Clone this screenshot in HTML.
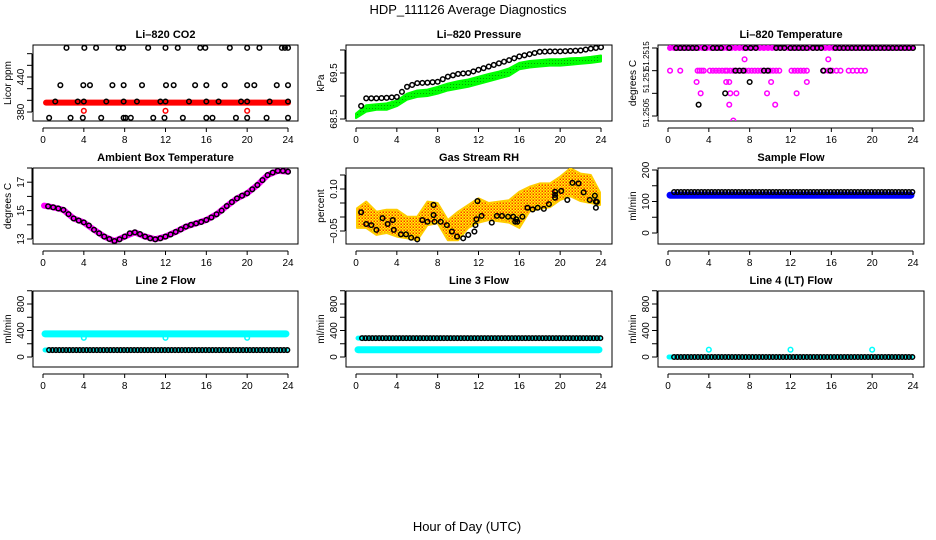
<!DOCTYPE html>
<html><head><meta charset="utf-8">
<style>
html,body{margin:0;padding:0;background:#fff;}
svg{display:block;font-family:"Liberation Sans",sans-serif;}
.tl{font-size:10px;fill:#000;}
.tt{font-size:11px;font-weight:bold;fill:#000;}
</style></head>
<body>
<svg id="chart" width="936" height="540" viewBox="0 0 936 540" xmlns="http://www.w3.org/2000/svg">
<defs>
<pattern id="rhpat" width="3" height="3" patternUnits="userSpaceOnUse">
<rect width="3" height="3" fill="#ffff00"/>
<rect width="1.5" height="1.5" fill="#ff8c00"/>
<rect x="1.5" y="1.5" width="1.5" height="1.5" fill="#ff3000"/>
</pattern>
<pattern id="grpat" width="3" height="3" patternUnits="userSpaceOnUse">
<rect width="3" height="3" fill="#00ff00"/>
<rect width="1" height="1" fill="#00a000"/>
</pattern>
</defs>
<text x="468" y="14" text-anchor="middle" font-size="13">HDP_111126  Average Diagnostics</text>
<text x="467" y="531" text-anchor="middle" font-size="13">Hour of Day (UTC)</text>
</svg>
<script>
// ---------- data ----------
const xTicks = [0,4,8,12,16,20,24];
const hours25 = [0,1,2,3,4,5,6,7,8,9,10,11,12,13,14,15,16,17,18,19,20,21,22,23,24];

// CO2
const co2HighHours = [2.3,4.05,5.2,7.4,7.85,10.3,12,13.2,15.4,15.9,18.3,20,21.2,23.4,23.7,24];
const co2HighVals = [490,490,490,490,490,490,490,490,490,490,490,490,490,490,490,490];
const co2MidHours = [1.7,3.95,4.6,6.8,7.9,9.7,12.05,12.8,14.9,16,17.8,20,20.7,22.9,24];
const co2MidVals = [426,426,426,426,426,426,426,426,426,426,426,426,426,426,426];
const co2LowHours = [1.2,3.4,4,6.2,7.9,9.2,11.5,12,14.3,16,17.2,19.4,20,22.2,24];
const co2LowVals = [398,398,398,398,398,398,398,398,398,398,398,398,398,398,398];
const co2BotHours = [0.6,2.7,3.9,5.7,7.9,8.1,8.6,10.8,11.9,13.7,16,16.6,18.9,20,21.9,24];
const co2BotVals = [370,370,370,370,370,370,370,370,370,370,370,370,370,370,370,370];
const co2RedBand = [396,396,396,396,396,396,396,396,396,396,396,396,396,396,396,396,396,396,396,396,396,396,396,396,396];
const co2RedDotHours = [4,12,20];
const co2RedDotVals = [382,382,382];

// Pressure
const presBlack = [68.62,68.95,68.95,68.96,68.98,69.2,69.28,69.29,69.31,69.42,69.48,69.5,69.57,69.64,69.71,69.78,69.86,69.91,69.96,69.97,69.97,69.98,69.99,70.03,70.06];
const presGreenHigh = [68.62,68.8,68.82,68.84,68.9,69.05,69.12,69.14,69.2,69.27,69.32,69.36,69.42,69.48,69.53,69.6,69.72,69.76,69.78,69.8,69.8,69.82,69.83,69.85,69.88];
const presGreenLow = [68.52,68.66,68.7,68.7,68.78,68.92,68.98,69.0,69.05,69.12,69.16,69.2,69.26,69.32,69.38,69.44,69.58,69.62,69.64,69.66,69.66,69.68,69.7,69.72,69.75];

// Li-820 temperature (discrete levels)
const tLevels = [51.252,51.25175,51.2515,51.25125,51.251,51.25075,51.2504];
const tMagHours = [
 [0.2,0.6,1,1.4,1.8,2.2,2.6,3,3.4,3.8,4.2,4.6,5,5.4,5.8,6.2,6.6,7,7.4,7.8,8.2,8.6,9,9.4,9.8,10.2,10.6,11,11.4,11.8,12.2,12.6,13,13.4,13.8,14.2,14.6,15,15.4,15.8,16.2,16.6,17,17.4,17.8,18.2,18.6,19,19.4,19.8,20.2,20.6,21,21.4,21.8,22.2,22.6,23,23.4,23.8],
 [7.5,15.7],
 [0.2,1.2,2.9,3.1,3.3,3.5,4.1,4.4,4.7,5,5.3,5.6,5.8,6.1,6.4,6.7,7,7.3,7.6,7.9,8.2,8.5,8.8,9.1,9.4,9.7,10,10.3,10.6,10.9,12.1,12.4,12.7,13,13.3,13.6,15.3,15.7,16.1,16.5,16.9,17.7,18.1,18.5,18.9,19.3],
 [2.8,5.7,6.0,10.1,13.6],
 [3.2,6.1,6.7,9.7,12.6],
 [6.0,10.5],
 [6.4]
];
const tBlackHours = [
 [0.8,1.2,1.6,2,2.4,2.8,3.6,4.4,4.8,5.2,6,7.6,8.1,8.6,10.6,11,11.4,12,12.4,12.8,13.2,13.6,14.2,14.6,15,16.4,16.8,17.2,17.6,18,18.4,18.8,19.2,19.6,20,20.4,20.8,21.2,21.6,22,22.4,22.8,23.2,23.6,24],
 [],
 [6.6,7,7.4,9.4,9.8,15.2,15.9],
 [8.0],
 [5.6],
 [3.0],
 []
];

// Ambient box temperature
const ambMagenta = [15.35,15.23,15.05,14.45,14.17,13.65,13.17,12.86,13.17,13.47,13.17,12.98,13.17,13.5,13.87,14.1,14.34,14.74,15.32,15.86,16.22,16.8,17.5,17.8,17.74];
const ambBlackHours = [0.5,1,1.5,2,2.5,3,3.5,4,4.5,5,5.5,6,6.5,7,7.5,8,8.5,9,9.5,10,10.5,11,11.5,12,12.5,13,13.5,14,14.5,15,15.5,16,16.5,17,17.5,18,18.5,19,19.5,20,20.5,21,21.5,22,22.5,23,23.5,24];
const ambBlackVals = [15.3,15.23,15.15,15.05,14.75,14.45,14.3,14.17,13.95,13.65,13.4,13.17,13.0,12.86,12.98,13.17,13.4,13.47,13.35,13.17,13.05,12.98,13.05,13.17,13.32,13.5,13.68,13.87,14.0,14.1,14.2,14.34,14.52,14.74,15.0,15.32,15.6,15.86,16.05,16.22,16.5,16.8,17.15,17.5,17.68,17.8,17.8,17.74];

// Gas stream RH
const rhBlackHours = [0.5,1,1.5,2,2.6,3.1,3.6,3.7,4.4,4.9,5.4,6,6.5,7,7.6,7.6,7.7,8.3,8.9,9.4,9.9,10.5,11,11.6,11.7,11.8,11.9,12.3,13.3,13.8,14.3,14.9,15.4,15.6,15.7,15.8,16.3,16.8,17.3,17.8,18.4,18.9,19.5,19.5,19.5,20.1,20.7,21.2,21.8,22.3,22.9,23.4,23.5,23.5,23.6];
const rhBlackVals = [0.017,-0.025,-0.029,-0.046,-0.004,-0.025,-0.011,-0.046,-0.062,-0.062,-0.074,-0.08,-0.011,-0.017,0.043,0.007,-0.017,-0.017,-0.029,-0.052,-0.07,-0.076,-0.064,-0.052,-0.029,-0.008,0.057,0.004,-0.02,0.004,0.004,0.001,0.001,-0.017,-0.008,-0.017,0.001,0.033,0.027,0.033,0.029,0.046,0.09,0.079,0.069,0.093,0.061,0.122,0.12,0.088,0.061,0.076,0.055,0.033,0.054];
const rhBandHigh = [0.031,0.055,0.019,0.026,0.026,0.001,0.001,0.055,0.05,-0.011,0.019,0.043,0.067,0.05,0.055,0.06,0.09,0.108,0.12,0.12,0.144,0.174,0.155,0.15,0.088];
const rhBandLow = [-0.039,-0.039,-0.064,-0.057,-0.07,-0.076,-0.083,-0.029,-0.022,-0.083,-0.083,-0.039,-0.02,-0.011,-0.015,-0.02,-0.039,0.02,0.029,0.035,0.061,0.074,0.057,0.05,0.043];

// Flows (hourly levels)
const sampBlue = [120,120,120,120,120,120,120,120,120,120,120,120,120,120,120,120,120,120,120,120,120,120,120,120,120];
const sampBlack = [130,130,130,130,130,130,130,130,130,130,130,130,130,130,130,130,130,130,130,130,130,130,130,130,130];
const l2Cyan = [350,350,350,350,350,350,350,350,350,350,350,350,350,350,350,350,350,350,350,350,350,350,350,350,350];
const l2Low = [105,105,105,105,105,105,105,105,105,105,105,105,105,105,105,105,105,105,105,105,105,105,105,105,105];
const l3Black = [285,285,285,285,285,285,285,285,285,285,285,285,285,285,285,285,285,285,285,285,285,285,285,285,285];
const l3Cyan = [110,110,110,110,110,110,110,110,110,110,110,110,110,110,110,110,110,110,110,110,110,110,110,110,110];
const l4Black = [0,0,0,0,0,0,0,0,0,0,0,0,0,0,0,0,0,0,0,0,0,0,0,0,0];
const spikeHours = [4,12,20];
const l2DipVals = [290,290,290];
const l4SpikeVals = [110,110,110];

// ---------- drawing ----------
const svg = document.getElementById('chart');
const NS = 'http://www.w3.org/2000/svg';
const colL = [33,346,658], colR = [298,612,924], colX0 = [43,356,668], colX24 = [288,601,913];
const rowT = [45,168,291], rowB = [121,244,367];

function mk(tag, attrs, parent){
  const e = document.createElementNS(NS, tag);
  for (const k in attrs) e.setAttribute(k, attrs[k]);
  (parent||svg).appendChild(e);
  return e;
}

function panel(c, r, name, title, ytitle, yMin, yPix0, yMax, yPix1, yTicks, yLabels, lblSize){
  const g = mk('g', {});
  
  
  const xs = h => colX0[c] + (h/24)*(colX24[c]-colX0[c]);
  const ys = v => yPix0 + (v - yMin)/(yMax - yMin)*(yPix1 - yPix0);
  const box = mk('rect', {x:colL[c], y:rowT[r], width:colR[c]-colL[c], height:rowB[r]-rowT[r], fill:'none', stroke:'#000', 'stroke-width':1}, g);
  
  
  const t = mk('text', {x:(colL[c]+colR[c])/2, y:rowT[r]-7, 'text-anchor':'middle', class:'tt'}, g);
  t.textContent = title;
  
  
  const xa = mk('g', {}, g);
  
  
  const yb = rowB[r] + 7;
  mk('line', {x1:xs(0), x2:xs(24), y1:yb, y2:yb, stroke:'#000'}, xa);
  xTicks.forEach(v=>{
    mk('line', {x1:xs(v), x2:xs(v), y1:yb, y2:yb+4, stroke:'#000'}, xa);
    const tl = mk('text', {x:xs(v), y:yb+15, 'text-anchor':'middle', class:'tl'}, xa);
    tl.textContent = v;
  });
  const ya = mk('g', {}, g);
  
  
  const xl = colL[c] - 1;
  const yts = yTicks.map(ys);
  mk('line', {x1:xl, x2:xl, y1:Math.min(...yts), y2:Math.max(...yts), stroke:'#000'}, ya);
  yTicks.forEach(v=>{ mk('line', {x1:xl-5, x2:xl, y1:ys(v), y2:ys(v), stroke:'#000'}, ya); });
  yLabels.forEach(lb=>{
    const ty = ys(lb[0]); const tx = colL[c]-9;
    const tl = mk('text', {x:tx, y:ty, 'text-anchor':'middle', class:'tl', transform:`rotate(-90 ${tx} ${ty})`}, ya);
    if (lblSize) tl.setAttribute('style', 'font-size:' + lblSize + 'px');
    tl.textContent = lb[1];
  });
  const yt = mk('text', {x:colL[c]-22, y:(rowT[r]+rowB[r])/2, 'text-anchor':'middle', class:'tl', transform:`rotate(-90 ${colL[c]-22} ${(rowT[r]+rowB[r])/2})`}, g);
  yt.textContent = ytitle;
  
  
  const clip = 'clip' + c + r;
  const cp = mk('clipPath', {id:clip}, g);
  mk('rect', {x:colL[c], y:rowT[r], width:colR[c]-colL[c], height:rowB[r]-rowT[r]}, cp);
  const plot = mk('g', {'clip-path':`url(#${clip})`}, g);
  return {xs, ys, plot};
}

function pts(P, name, hs, vs, color, r, sw){
  const g = mk('g', {}, P.plot);
  
  
  hs.forEach((h,i)=>{
    const c = mk('circle', {cx:P.xs(h), cy:P.ys(vs[i]), r:r||2.3, fill:'none', stroke:color, 'stroke-width':sw||1.5}, g);
    
  });
}
function band(P, name, hs, vs, color, w, h0, h1){
  const d = hs.map((h,i)=>`${i?'L':'M'}${P.xs(Math.min(Math.max(h,h0),h1))},${P.ys(vs[i])}`).join(' ');
  const p = mk('path', {d, fill:'none', stroke:color, 'stroke-width':w, 'stroke-linejoin':'round', 'stroke-linecap':'round'}, P.plot);
  
  
}
function area(P, name, hs, hi, lo, fill){
  const top = hs.map((h,i)=>`${P.xs(h)},${P.ys(hi[i])}`);
  const bot = hs.map((h,i)=>`${P.xs(h)},${P.ys(lo[i])}`).reverse();
  const p = mk('polygon', {points: top.concat(bot).join(' '), fill, stroke:fill==='url(#rhpat)'?'#ffcc00':'#00ff00', 'stroke-width':2, 'stroke-linejoin':'round'}, P.plot);
  
  
}
const grid = []; for (let h = 0.6; h <= 24.01; h += 1/3) grid.push(+h.toFixed(3));
const atHour = (arr) => grid.map(h => arr[Math.round(h)]);

// Panel 1: CO2
let P = panel(0,0,'co2','Li\u2013820 CO2','Licor ppm',380,112,440,77,[380,400,420,440,460,480],[[380,'380'],[440,'440']]);
band(P,'co2-red-band',hours25,co2RedBand,'#ff0000',6,0.3,24);
pts(P,'co2-red-dots',co2RedDotHours,co2RedDotVals,'#ff0000');
pts(P,'co2-black-high',co2HighHours,co2HighVals,'#000');
pts(P,'co2-black-mid',co2MidHours,co2MidVals,'#000');
pts(P,'co2-black-low',co2LowHours,co2LowVals,'#000');
pts(P,'co2-black-bottom',co2BotHours,co2BotVals,'#000');

// Panel 2: Pressure
P = panel(1,0,'pressure','Li\u2013820 Pressure','kPa',68.5,119,69.5,73,[68.5,69,69.5,70],[[68.5,'68.5'],[69.5,'69.5']]);
area(P,'pressure-green-band',hours25,presGreenHigh,presGreenLow,'url(#grpat)');
pts(P,'pressure-black-points',hours25.slice(1).map((h,i)=>h-0.5).concat(hours25.slice(1)),presBlack.slice(1).map((v,i)=>(v+presBlack[i])/2).concat(presBlack.slice(1)),'#000');

// Panel 3: Li-820 temperature
P = panel(2,0,'li820-temp','Li\u2013820 Temperature','degrees C',51.2505,116,51.252,48,[51.2505,51.251,51.2515,51.252],[[51.25057,'51.2505'],[51.25128,'51.251'],[51.25183,'51.2515']],8);
tLevels.forEach((lv,k)=>{
  pts(P,'temp-magenta-level-'+k,tMagHours[k],tMagHours[k].map(()=>lv),'#ff00ff');
});
band(P,'temp-magenta-top-band',[0.2,24],[51.252,51.252],'#ff00ff',4,0,24);
tLevels.forEach((lv,k)=>{
  pts(P,'temp-black-level-'+k,tBlackHours[k],tBlackHours[k].map(()=>lv),'#000');
});

// Panel 4: Ambient
P = panel(0,1,'ambient-temp','Ambient Box Temperature','degrees C',13,239,18,168,[13,14,15,16,17,18],[[13,'13'],[15,'15'],[17,'17']]);
band(P,'ambient-magenta-line',hours25.map(h=>h===0?0.1:h),ambMagenta,'#ff00ff',6,0,24);
pts(P,'ambient-black-points',ambBlackHours,ambBlackVals,'#000');

// Panel 5: RH
P = panel(1,1,'rh','Gas Stream RH','percent',0,217,0.1,189,[-0.05,0,0.05,0.1,0.15],[[-0.05,'\u22120.05'],[0.1,'0.10']]);
area(P,'rh-orange-band',hours25.map(h=>Math.min(Math.max(h,0.1),23.9)),rhBandHigh,rhBandLow,'url(#rhpat)');
pts(P,'rh-black-points',rhBlackHours,rhBlackVals,'#000');

// Panel 6: Sample flow
P = panel(2,1,'sample-flow','Sample Flow','ml/min',0,233,200,170,[0,50,100,150,200],[[0,'0'],[100,'100'],[200,'200']]);
band(P,'sample-blue-band',hours25,sampBlue,'#0000ff',7,0.2,23.8);
pts(P,'sample-black-points',grid,atHour(sampBlack),'#000');

// Panel 7: Line 2
const fT = [0,200,400,600,800,1000], fL = [[0,'0'],[400,'400'],[800,'800']];
P = panel(0,2,'line2-flow','Line 2 Flow','ml/min',0,357,400,330.5,fT,fL);
band(P,'line2-cyan-band',hours25,l2Cyan,'#00ffff',7,0.2,23.8);
pts(P,'line2-cyan-dips',spikeHours,l2DipVals,'#00ffff');
band(P,'line2-cyan-low-band',hours25,l2Low,'#00ffff',5,0.2,23.8);
pts(P,'line2-black-points',grid,atHour(l2Low),'#000');

// Panel 8: Line 3
P = panel(1,2,'line3-flow','Line 3 Flow','ml/min',0,357,400,330.5,fT,fL);
band(P,'line3-cyan-low-band',hours25,l3Cyan,'#00ffff',7,0.2,23.8);
band(P,'line3-cyan-high-band',hours25,l3Black,'#00ffff',5,0.2,23.8);
pts(P,'line3-black-points',grid,atHour(l3Black),'#000');

// Panel 9: Line 4
P = panel(2,2,'line4-flow','Line 4 (LT) Flow','ml/min',0,357,400,330.5,fT,fL);
band(P,'line4-cyan-band',hours25,l4Black,'#00ffff',5,0.1,23.8);
pts(P,'line4-black-points',grid,atHour(l4Black),'#000');
pts(P,'line4-cyan-spikes',spikeHours,l4SpikeVals,'#00ffff');
</script>
</body></html>
